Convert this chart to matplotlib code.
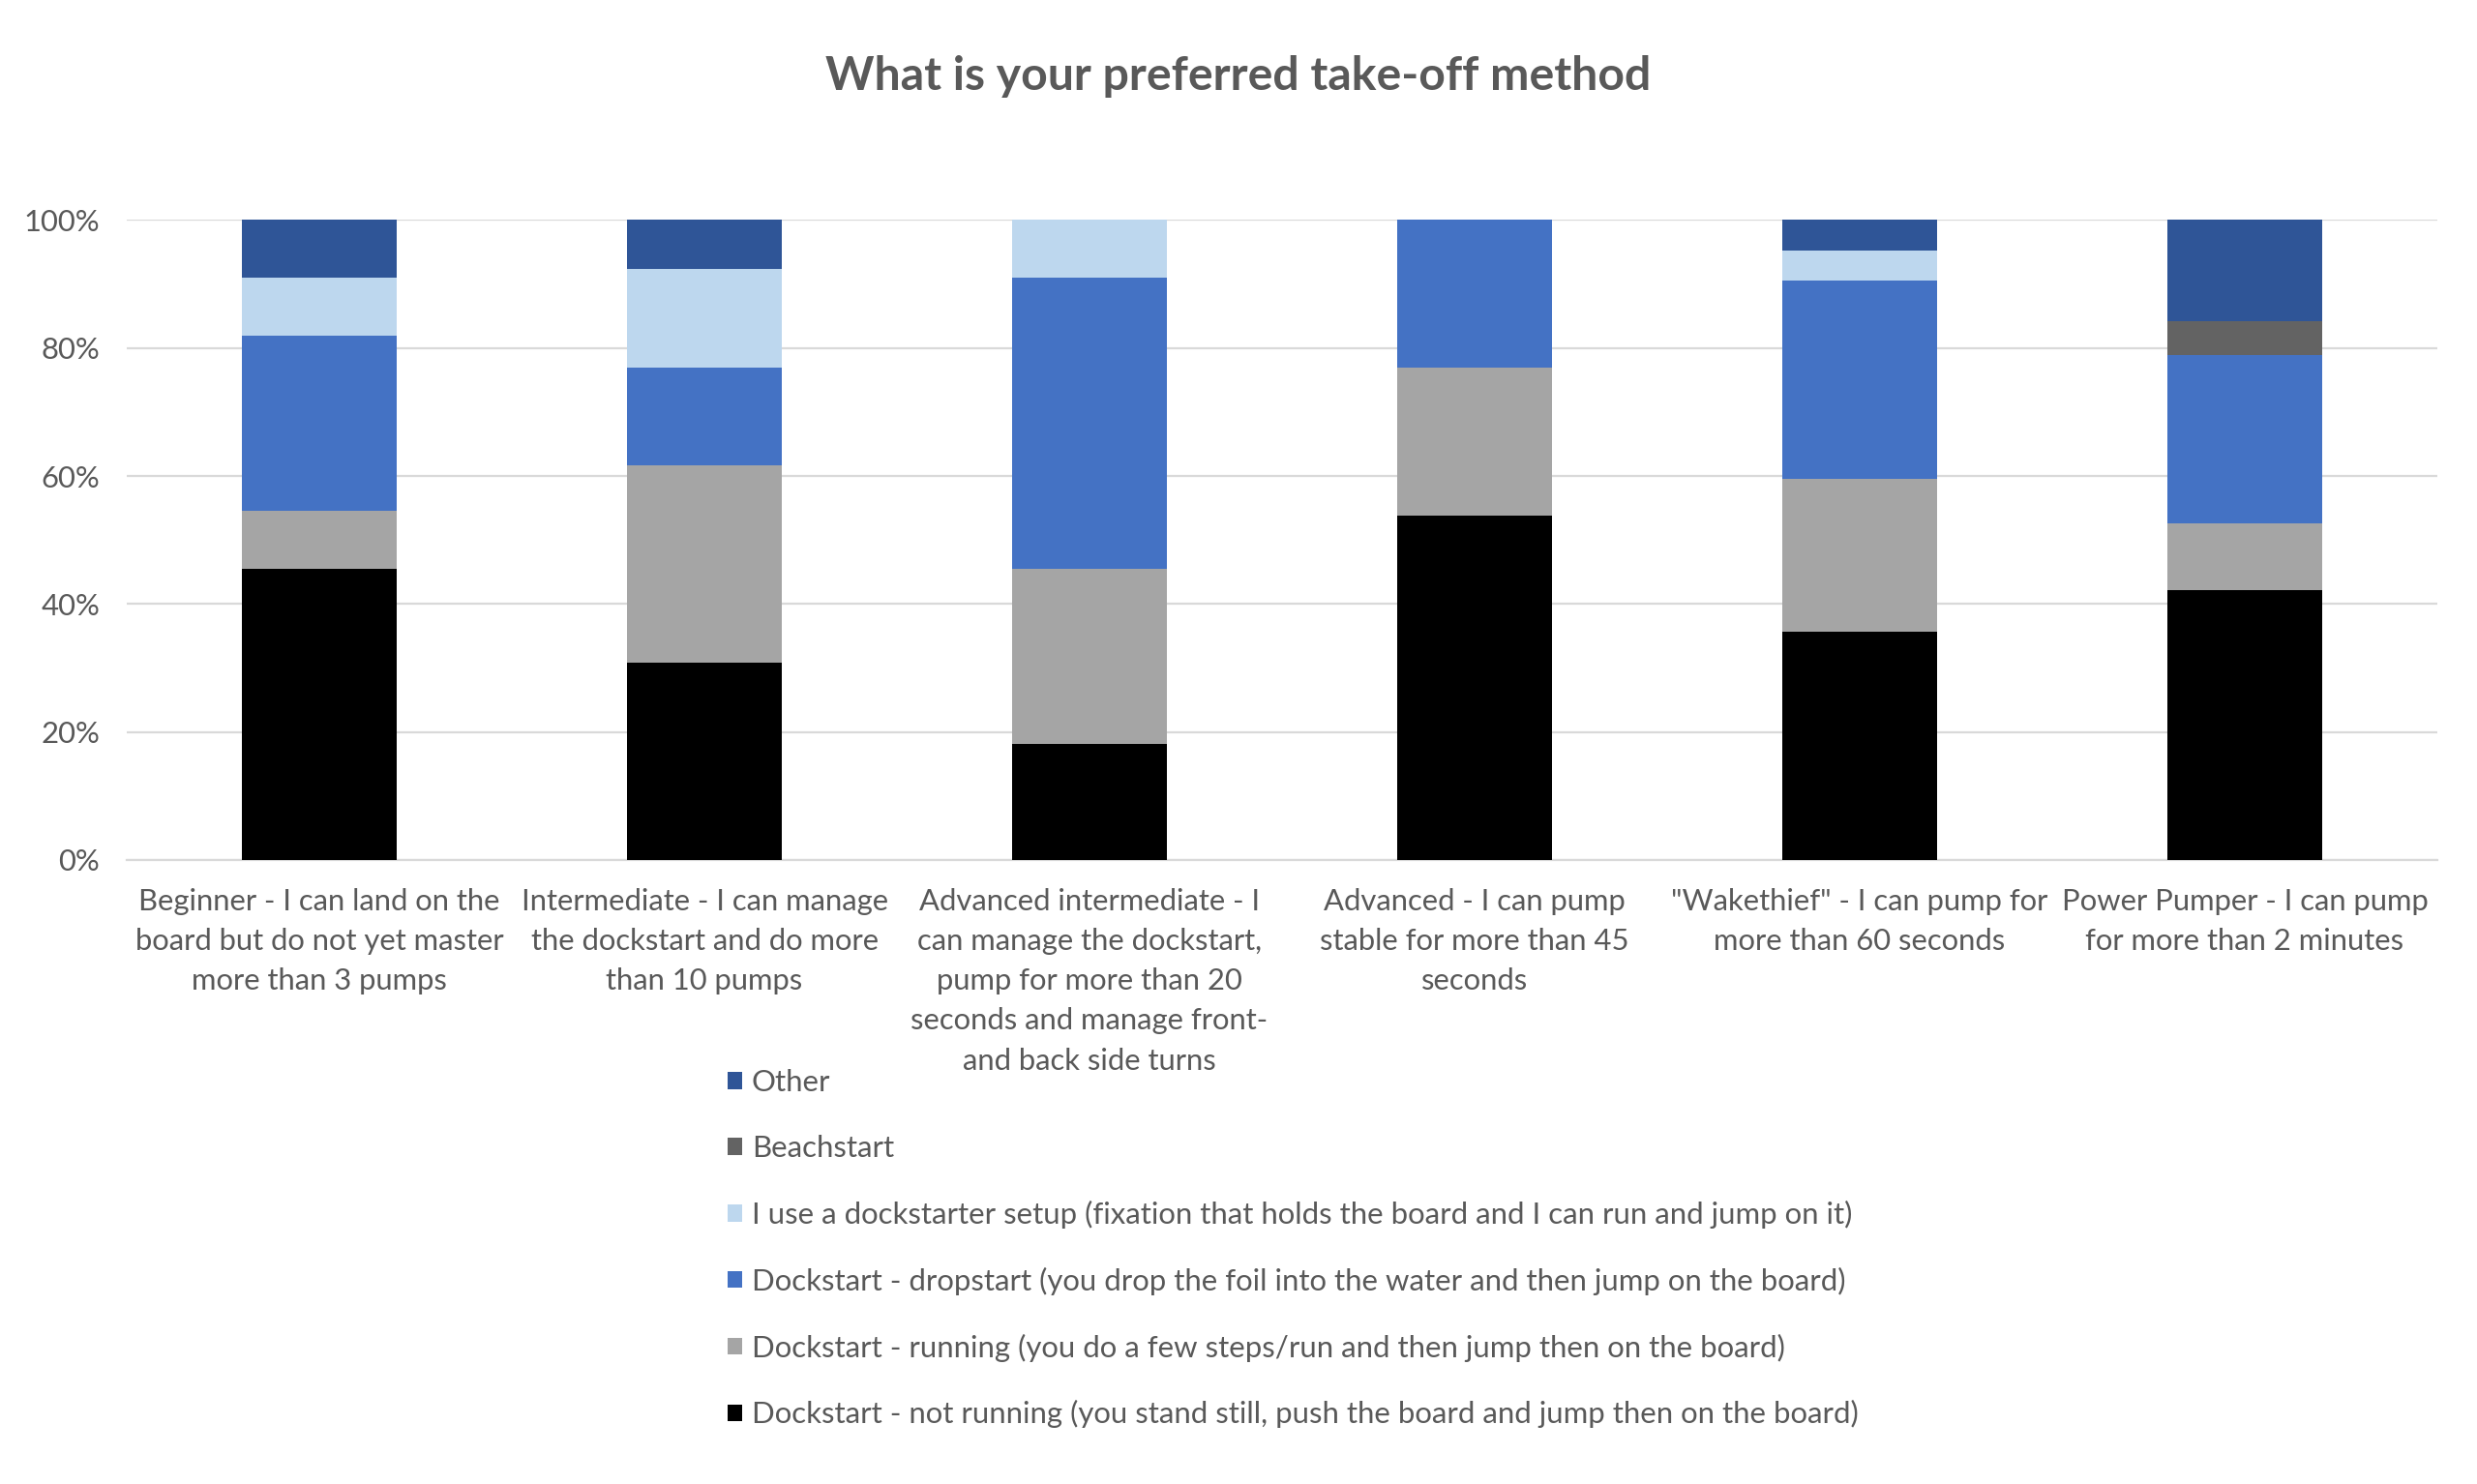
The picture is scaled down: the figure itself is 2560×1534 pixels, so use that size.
import matplotlib.pyplot as plt
from matplotlib.patches import Patch
from matplotlib.ticker import PercentFormatter

plt.rcParams['font.family'] = ['Lato', 'DejaVu Sans']

categories = [
    'Beginner - I can land on the\nboard but do not yet master\nmore than 3 pumps',
    'Intermediate - I can manage\nthe dockstart and do more\nthan 10 pumps',
    'Advanced intermediate - I\ncan manage the dockstart,\npump for more than 20\nseconds and manage front-\nand back side turns',
    'Advanced - I can pump\nstable for more than 45\nseconds',
    '"Wakethief" - I can pump for\nmore than 60 seconds',
    'Power Pumper - I can pump\nfor more than 2 minutes',
]

# percent of respondents, bottom to top of each bar
not_running = [45.5, 30.8, 18.2, 53.8, 35.7, 42.1]
running = [9.1, 30.8, 27.3, 23.1, 23.8, 10.5]
dropstart = [27.3, 15.4, 45.5, 23.1, 31.0, 26.3]
dockstarter = [9.1, 15.4, 9.0, 0.0, 4.8, 0.0]
beachstart = [0.0, 0.0, 0.0, 0.0, 0.0, 5.3]
other = [9.0, 7.6, 0.0, 0.0, 4.7, 15.8]

series_names = [
    'Dockstart - not running (you stand still, push the board and jump then on the board)',
    'Dockstart - running (you do a few steps/run and then jump then on the board)',
    'Dockstart - dropstart (you drop the foil into the water and then jump on the board)',
    'I use a dockstarter setup (fixation that holds the board and I can run and jump on it)',
    'Beachstart',
    'Other',
]
series_values = [not_running, running, dropstart, dockstarter, beachstart, other]
colors = ['#000000', '#A5A5A5', '#4472C4', '#BDD7EE', '#636363', '#2F5597']

text_col = '#595959'
grid_col = '#D9D9D9'

fig = plt.figure(figsize=(25.6, 15.34), dpi=100)
ax = fig.add_axes([0.0512, 0.4205, 0.9328, 0.4312])

x = list(range(len(categories)))
bottom = [0.0] * len(categories)
for name, vals, col in zip(series_names, series_values, colors):
    ax.bar(x, vals, width=0.4, bottom=bottom, color=col, label=name, zorder=3)
    bottom = [b + v for b, v in zip(bottom, vals)]

ax.set_xlim(-0.5, len(categories) - 0.5)
ax.set_ylim(0, 100)
ax.set_yticks([0, 20, 40, 60, 80, 100])
ax.yaxis.set_major_formatter(PercentFormatter(decimals=0))
ax.set_xticks(x)
ax.set_xticklabels(categories, linespacing=1.57)
ax.grid(axis='y', color=grid_col, linewidth=1.6, zorder=0)
for s in ['top', 'right', 'left']:
    ax.spines[s].set_visible(False)
ax.spines['bottom'].set_color(grid_col)
ax.spines['bottom'].set_linewidth(1.6)
ax.tick_params(axis='both', length=0, colors=text_col, labelsize=22.3)
ax.tick_params(axis='y', pad=20)
ax.tick_params(axis='x', pad=21)

fig.text(0.5, 0.9485, 'What is your preferred take-off method', ha='center', va='center',
         fontsize=34.7, fontweight='bold', color=text_col)

handles = [Patch(facecolor=c, label=n) for n, c in zip(series_names, colors)][::-1]
leg = fig.legend(handles=handles, loc='upper left', bbox_to_anchor=(0.2937, 0.2797),
                 frameon=False, fontsize=22.4, labelspacing=1.28, handlelength=0.5,
                 handleheight=0.5, handletextpad=0.3, borderpad=0, borderaxespad=0)
for t in leg.get_texts():
    t.set_color(text_col)

fig.savefig('out.png', dpi=100, facecolor='white')
